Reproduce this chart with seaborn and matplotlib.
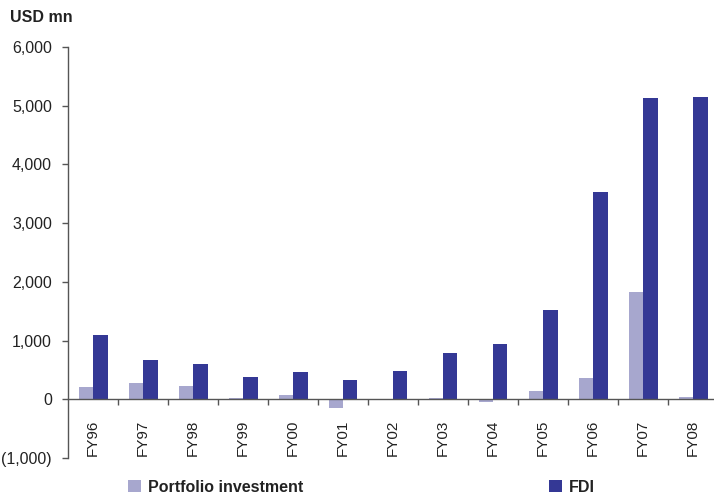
import matplotlib
matplotlib.use("Agg")
import matplotlib.pyplot as plt
import matplotlib.ticker as mticker
from matplotlib.patches import Patch
import numpy as np
import pandas as pd
import seaborn as sns

# Capital inflows by fiscal year, USD mn
years = ["FY96", "FY97", "FY98", "FY99", "FY00", "FY01", "FY02",
         "FY03", "FY04", "FY05", "FY06", "FY07", "FY08"]
portfolio = [204, 272, 233, 25, 80, -140, 0, 25, -40, 148, 370, 1835, 45]
fdi = [1090, 665, 596, 375, 460, 324, 477, 784, 937, 1516, 3526, 5128, 5145]
series_names = ["Portfolio investment", "FDI"]
y_ticks = [-1000, 0, 1000, 2000, 3000, 4000, 5000, 6000]

light = "#A7A7CE"
dark = "#343895"
axis_col = "#555555"
text_col = "#222222"

df = pd.DataFrame({
    "year": years * 2,
    "value": portfolio + fdi,
    "series": [series_names[0]] * len(years) + [series_names[1]] * len(years),
})

sns.set_theme(style="white")
plt.rcParams["font.family"] = ["Liberation Sans", "DejaVu Sans"]

fig = plt.figure(figsize=(7.14, 4.96), dpi=100)
ax = fig.add_axes([68 / 714, 38 / 496, 650 / 714, 411 / 496])

sns.barplot(data=df, x="year", y="value", hue="series",
            palette=[light, dark], saturation=1, width=0.58,
            dodge=True, ax=ax, legend=False, linewidth=0, edgecolor="none")

ax.set_xlim(-0.5, 12.5)
ax.set_ylim(-1000, 6000)
ax.set_xlabel("")
ax.set_ylabel("")

# Spines: left axis plus a baseline through zero
for s in ["top", "right"]:
    ax.spines[s].set_visible(False)
ax.spines["left"].set_color(axis_col)
ax.spines["left"].set_linewidth(1.0)
ax.spines["bottom"].set_position(("data", 0))
ax.spines["bottom"].set_color(axis_col)
ax.spines["bottom"].set_linewidth(1.0)

# Y axis
ax.set_yticks(y_ticks)
def fmt(v, pos):
    v = int(round(v))
    return f"({abs(v):,})" if v < 0 else f"{v:,}"
ax.yaxis.set_major_formatter(mticker.FuncFormatter(fmt))
ax.tick_params(axis="y", which="major", direction="out", length=4.5,
               width=1.0, color=axis_col, labelsize=11.5, labelcolor=text_col,
               pad=7, left=True)

# X axis: labels at category centres, ticks at category boundaries
ax.set_xticks(np.arange(len(years)))
ax.set_xticklabels(years, rotation=90, va="top", ha="center")
ax.set_xticks(np.arange(len(years)) + 0.5, minor=True)
ax.tick_params(axis="x", which="major", length=0, labelsize=11,
               labelcolor=text_col, pad=15, bottom=True)
ax.tick_params(axis="x", which="minor", direction="out", length=4.5,
               width=1.0, color=axis_col, bottom=True)

ax.grid(False)

fig.text(10 / 714, 1 - 17 / 496, "USD mn", fontsize=11.5, fontweight="bold",
         color=text_col, va="center", ha="left")

handles = [Patch(facecolor=light, edgecolor="none"),
           Patch(facecolor=dark, edgecolor="none")]
fig.legend(handles, series_names, loc="center left",
           bbox_to_anchor=(128 / 714, 1 - 487 / 496), ncol=2, frameon=False,
           borderpad=0, borderaxespad=0, handlelength=0.8, handleheight=0.8,
           handletextpad=0.45, columnspacing=15.4,
           prop={"size": 11.5, "weight": "bold"}, labelcolor=text_col)

fig.savefig("out.png", dpi=100)
